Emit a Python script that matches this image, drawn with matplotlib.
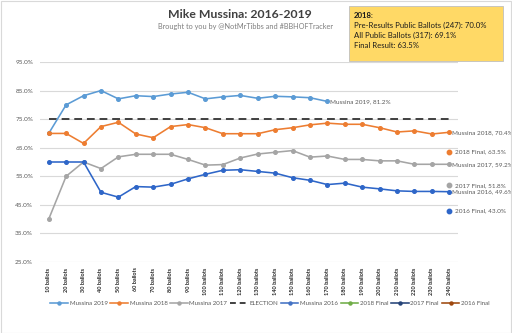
import matplotlib
matplotlib.use("Agg")
import matplotlib.pyplot as plt
from matplotlib.lines import Line2D
from matplotlib.patches import Rectangle

plt.rcParams['font.family'] = ['Lato', 'DejaVu Sans']

categories = [f"{n} ballots" for n in range(10, 250, 10)]

m2019 = [70.0, 80.0, 83.2, 85.0, 82.1, 83.2, 82.9, 83.8, 84.4, 82.1, 82.8, 83.3,
         82.3, 83.0, 82.8, 82.5, 81.2]
m2018 = [70.0, 70.0, 66.5, 72.4, 73.9, 69.8, 68.5, 72.4, 73.1, 72.0, 69.9, 69.9,
         69.9, 71.3, 72.0, 73.0, 73.6, 73.2, 73.2, 72.0, 70.5, 70.9, 69.8, 70.4]
m2017 = [40.0, 55.0, 60.0, 57.7, 61.8, 62.7, 62.7, 62.7, 60.9, 58.9, 59.1, 61.4,
         62.8, 63.4, 64.0, 61.7, 62.1, 60.9, 60.9, 60.4, 60.4, 59.2, 59.2, 59.2]
m2016 = [60.0, 60.0, 60.0, 49.4, 47.7, 51.4, 51.2, 52.2, 54.1, 55.7, 57.1, 57.3,
         56.7, 56.1, 54.5, 53.6, 52.1, 52.6, 51.2, 50.6, 49.9, 49.7, 49.7, 49.6]
election = 75.0
finals = {"2018 Final": 63.5, "2017 Final": 51.8, "2016 Final": 43.0}
yticks = [25, 35, 45, 55, 65, 75, 85, 95]

c2019, c2018, c2017, c2016 = "#5B9BD5", "#ED7D31", "#A5A5A5", "#2E66C8"
final_colors = {"2018 Final": c2018, "2017 Final": c2017, "2016 Final": c2016}
label_color = "#595959"

W, H = 512, 333
fig = plt.figure(figsize=(W / 100, H / 100), dpi=100)
fig.patches.append(Rectangle((0.5 / W, 0.5 / H), 1 - 1.5 / W, 1 - 1.5 / H,
                             transform=fig.transFigure, fill=False,
                             edgecolor="#D9D9D9", linewidth=0.8))

ax = fig.add_axes([40 / W, (H - 262) / H, 418 / W, 200 / H])
x = list(range(len(categories)))

lw = 1.15
ms = 2.6
ax.plot(x[:len(m2019)], m2019, color=c2019, lw=lw, marker='o', ms=ms, zorder=4)
ax.plot(x, m2018, color=c2018, lw=lw, marker='o', ms=ms, zorder=4)
ax.plot(x, m2017, color=c2017, lw=lw, marker='o', ms=ms, zorder=4)
ax.plot(x, [election] * len(x), color="#404040", lw=1.4, ls=(0, (4, 2.5)), zorder=3)
ax.plot(x, m2016, color=c2016, lw=lw, marker='o', ms=ms, zorder=4)

last = len(x) - 1
for name, val in finals.items():
    ax.plot([last], [val], color=final_colors[name], marker='o', ms=3.2, ls='none', zorder=5)
    ax.annotate(f"{name}, {val:.1f}%", (last, val), xytext=(4, 0),
                textcoords='offset points', va='center', ha='left',
                fontsize=4.6, color=label_color, annotation_clip=False)

for series, name in [(m2019, "Mussina 2019"), (m2018, "Mussina 2018"),
                     (m2017, "Mussina 2017"), (m2016, "Mussina 2016")]:
    ax.annotate(f"{name}, {series[-1]:.1f}%", (len(series) - 1, series[-1]),
                xytext=(2, 0), textcoords='offset points', va='center', ha='left',
                fontsize=4.6, color=label_color, annotation_clip=False)

ax.set_xlim(-0.5, len(x) - 0.5)
ax.set_ylim(25, 95)
ax.set_yticks(yticks)
ax.set_yticklabels([f"{v:.1f}%" for v in yticks], fontsize=4.6, color=label_color)
ax.set_xticks(x)
ax.set_xticklabels(categories, rotation=90, fontsize=4.0, fontweight='bold', color="#262626")
ax.tick_params(axis='both', length=0, pad=4)
ax.tick_params(axis='y', pad=5)
ax.grid(axis='y', color="#D9D9D9", lw=0.8)
ax.set_axisbelow(True)
for s in ax.spines.values():
    s.set_visible(False)

fig.text(240 / W, 1 - 14.5 / H, "Mike Mussina: 2016-2019", ha='center', va='center',
         fontsize=8.8, fontweight='bold', color="#404040")
fig.text(245 / W, 1 - 26.5 / H, "Brought to you by @NotMrTibbs and #BBHOFTracker",
         ha='center', va='center', fontsize=5.3, color="#7F7F7F")

# annotation box
fig.patches.append(Rectangle((349 / W, 1 - 61 / H), 154 / W, 55 / H,
                             transform=fig.transFigure, facecolor="#FFD966",
                             edgecolor="#BFBFBF", linewidth=0.6))
box_lines = [("2018:", 'bold'),
             ("Pre-Results Public Ballots (247): 70.0%", 'normal'),
             ("All Public Ballots (317): 69.1%", 'normal'),
             ("Final Result: 63.5%", 'normal')]
for i, (t, w) in enumerate(box_lines):
    fig.text(354 / W, 1 - (15 + i * 10.3) / H, t, ha='left', va='center',
             fontsize=5.6, fontweight=w, color="#1a1a1a")

handles = [
    Line2D([], [], color=c2019, lw=lw, marker='o', ms=2.2),
    Line2D([], [], color=c2018, lw=lw, marker='o', ms=2.2),
    Line2D([], [], color=c2017, lw=lw, marker='o', ms=2.2),
    Line2D([], [], color="#404040", lw=1.4, ls=(0, (3, 2))),
    Line2D([], [], color="#4472C4", lw=lw, marker='o', ms=2.2),
    Line2D([], [], color="#70AD47", lw=lw, marker='o', ms=2.2),
    Line2D([], [], color="#264478", lw=lw, marker='o', ms=2.2),
    Line2D([], [], color="#9E480E", lw=lw, marker='o', ms=2.2),
]
labels = ["Mussina 2019", "Mussina 2018", "Mussina 2017", "ELECTION",
          "Mussina 2016", "2018 Final", "2017 Final", "2016 Final"]
fig.legend(handles, labels, loc='center', bbox_to_anchor=(270 / W, 1 - 303 / H),
           ncol=8, frameon=False, fontsize=4.4, handlelength=2.9,
           handletextpad=0.25, columnspacing=0.45, labelcolor=label_color,
           borderaxespad=0, borderpad=0)

fig.savefig("out.png", dpi=100)
